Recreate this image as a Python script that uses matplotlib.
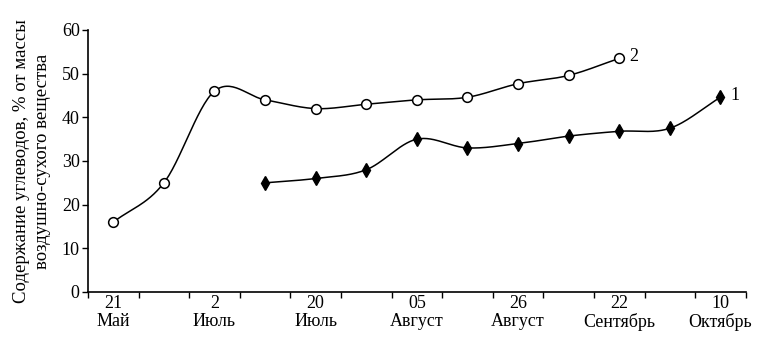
import numpy as np
import matplotlib
matplotlib.use("Agg")
import matplotlib.pyplot as plt

# ---- data ----
tick_days = ["21", "2", "20", "05", "26", "22", "10"]
tick_months = ["Май", "Июль", "Июль", "Август", "Август", "Сентябрь", "Октябрь"]
# sampling positions (half-steps between labelled dates)
x2 = [0, 1, 2, 3, 4, 5, 6, 7, 8, 9, 10]
y2 = [16, 25, 46, 44, 42, 43, 44, 44.6, 47.7, 49.6, 53.5]
x1 = [3, 4, 5, 6, 7, 8, 9, 10, 11, 12]
y1 = [25, 26, 28, 35, 33, 34, 35.7, 36.8, 37.5, 44.6]
series_names = ["2", "1"]
ylabel = "Содержание углеводов, % от массы\nвоздушно-сухого вещества"

plt.rcParams['font.family'] = ['Liberation Serif', 'DejaVu Serif']


def smooth(xs, ys, n=30):
    xs = np.asarray(xs, float)
    ys = np.asarray(ys, float)
    px = np.concatenate([[2 * xs[0] - xs[1]], xs, [2 * xs[-1] - xs[-2]]])
    py = np.concatenate([[2 * ys[0] - ys[1]], ys, [2 * ys[-1] - ys[-2]]])
    ox, oy = [], []
    for i in range(1, len(px) - 2):
        t = np.linspace(0, 1, n, endpoint=(i == len(px) - 3))
        p0x, p1x, p2x, p3x = px[i - 1:i + 3]
        p0y, p1y, p2y, p3y = py[i - 1:i + 3]
        m1x, m2x = (p2x - p0x) / 2, (p3x - p1x) / 2
        m1y, m2y = (p2y - p0y) / 2, (p3y - p1y) / 2
        h00 = 2 * t**3 - 3 * t**2 + 1
        h10 = t**3 - 2 * t**2 + t
        h01 = -2 * t**3 + 3 * t**2
        h11 = t**3 - t**2
        ox.append(h00 * p1x + h10 * m1x + h01 * p2x + h11 * m2x)
        oy.append(h00 * p1y + h10 * m1y + h01 * p2y + h11 * m2y)
    return np.concatenate(ox), np.concatenate(oy)


fig = plt.figure(figsize=(7.68, 3.55), dpi=100)
ax = fig.add_axes([0.1146, 0.1775, 0.8564, 0.738])

sx, sy = smooth(x2, y2)
ax.plot(sx, sy, color='black', lw=1.1, zorder=2)
ax.plot(x2, y2, linestyle='none', marker='o', markersize=7,
        markerfacecolor='white', markeredgecolor='black', markeredgewidth=1.1, zorder=3)

sx, sy = smooth(x1, y1)
ax.plot(sx, sy, color='black', lw=1.1, zorder=2)
ax.plot(x1, y1, linestyle='none', marker='d', markersize=7.5,
        markerfacecolor='black', markeredgecolor='black', zorder=3)

ax.annotate(series_names[0], (x2[-1], y2[-1]), xytext=(7, 1), textcoords='offset points',
            fontsize=13, va='center', ha='left')
ax.annotate(series_names[1], (x1[-1], y1[-1]), xytext=(7, 1), textcoords='offset points',
            fontsize=13, va='center', ha='left')

ax.set_xlim(-0.5, 12.5)
ax.set_ylim(0, 60)
ax.set_yticks(range(0, 61, 10))
ax.set_xticks(np.arange(-0.5, 12.6, 1.0))
ax.set_xticklabels([])
ax.set_xticks(range(0, 13, 2), minor=True)
ax.set_xticklabels([f"{d}\n{m}" for d, m in zip(tick_days, tick_months)], minor=True)
ax.tick_params(axis='x', which='minor', length=0, pad=2, labelsize=13)
ax.tick_params(axis='x', which='major', length=4, width=1, direction='out')
ax.tick_params(axis='y', length=4, width=1, direction='out', labelsize=13, pad=2)
for lbl in ax.get_xticklabels(minor=True):
    lbl.set_linespacing(1.1)

ax.spines['top'].set_visible(False)
ax.spines['right'].set_visible(False)
ax.spines['left'].set_linewidth(1.2)
ax.spines['bottom'].set_linewidth(1.2)

ax.set_ylabel(ylabel, fontsize=13.5, linespacing=1.3, labelpad=8)

fig.savefig("out.png", dpi=100)
